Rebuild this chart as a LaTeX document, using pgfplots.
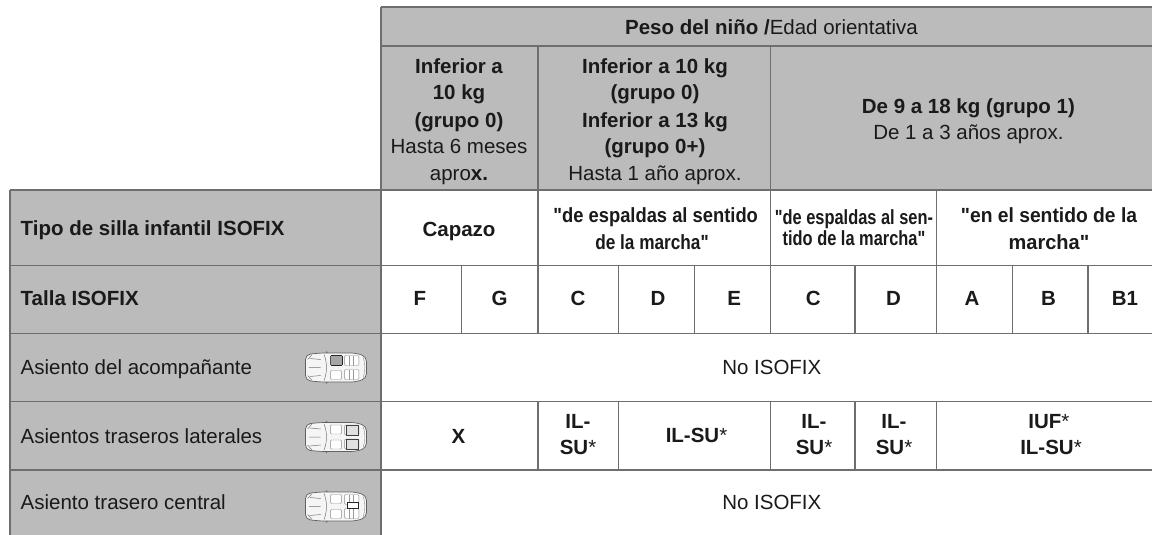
\documentclass[border=0pt]{standalone}
\usepackage{pgfplots}
\pgfplotsset{compat=1.18}
\usepackage{fontspec}
\setmainfont[Ligatures=TeXOff]{Liberation Sans}
\definecolor{cellgrey}{HTML}{BBBBBB}
\definecolor{rule}{HTML}{6E6E6E}
\definecolor{ink}{HTML}{1A1A1A}
\newcommand{\grid}[1]{\addplot[rule,line width=1.5pt,forget plot] coordinates {#1};}
\newcommand{\B}[1]{{\bfseries #1}}
\newcommand{\Sx}[2]{\scalebox{#1}[1]{#2}}
\newcommand{\cell}[3]{\node[align=center,text=ink,inner sep=0pt,anchor=center,yshift=-2pt] at (axis cs:#1,#2) {\strut #3};}
\newcommand{\lcell}[2]{\node[text=ink,inner sep=0pt,anchor=west,yshift=-2pt] at (axis cs:20.5,#1) {\strut #2};}
\tikzset{
  seat/.style={draw=#1,line width=0.45pt,fill=white,rounded corners=1pt},
  pics/car/.style={code={
    \begin{scope}[x=1.09pt,y=1pt]
      \draw[fill=white!96!black,draw=black!62,line width=0.7pt,rounded corners=5pt]
        (-28,-13)--(-28,13)--(-14,14.5)--(18,14.5)--(28,11)--(28,-11)--(18,-14.5)--(-14,-14.5)--cycle;
      \draw[black!62,line width=0.7pt] (-8,14.5)--(-9,16) (-8,-14.5)--(-9,-16);
      \draw[black!55,line width=0.5pt] (-11,13) .. controls (-8,5) and (-8,-5) .. (-11,-13);
      \draw[black!55,line width=0.5pt] (-14,8)--(-24,9) (-14,0)--(-25,0) (-14,-8)--(-24,-9);
      \draw[black!55,line width=0.5pt] (-22,13)--(-26,8) (-22,-13)--(-26,-8);
      \draw[black!45,line width=0.4pt] (25,10) .. controls (27,4) and (27,-4) .. (25,-10);
      \draw[seat=black!45] (-5,3)  rectangle (5,12);
      \draw[seat=black!45] (-5,-12) rectangle (5,-3);
      \draw[seat=black!45] (8,2)  rectangle (21,12);
      \draw[seat=black!45] (8,-12) rectangle (21,-2);
      \draw[black!40,line width=0.35pt] (12,2)--(12,12) (16,2)--(16,12) (12,-12)--(12,-2) (16,-12)--(16,-2);
      #1
    \end{scope}
  }},
}
\newcommand{\car}[2]{\path (axis cs:336,#1) pic {car={#2}};}
\begin{document}
\begin{tikzpicture}
\begin{axis}[
  scale only axis, width=1152pt, height=535pt,
  xmin=0,xmax=1152,ymin=0,ymax=535,y dir=reverse,
  hide axis, clip=true,
  font=\fontsize{20.5}{23}\selectfont,
]
\addplot[fill=white,draw=none,forget plot] coordinates {(0,0)(1152,0)(1152,535)(0,535)} --cycle;
\addplot[fill=cellgrey,draw=none,forget plot] coordinates {(381,7)(1152,7)(1152,190)(381,190)} --cycle;
\addplot[fill=cellgrey,draw=none,forget plot] coordinates {(10,190)(381,190)(381,535)(10,535)} --cycle;
% horizontals
\grid{(381,7)(1152,7)}
\grid{(381,46)(1152,46)}
\grid{(10,190)(1152,190)}
\grid{(10,265.7)(1152,265.7)}
\grid{(10,333.3)(1152,333.3)}
\grid{(10,401.7)(1152,401.7)}
\grid{(10,470)(1152,470)}
% verticals
\grid{(10,190)(10,535)}
\grid{(381,7)(381,535)}
\grid{(537.8,46)(537.8,333.3)}
\grid{(770.7,46)(770.7,333.3)}
\grid{(936.4,190)(936.4,333.3)}
\grid{(461.4,265.7)(461.4,333.3)}
\grid{(618.6,265.7)(618.6,333.3)}
\grid{(694.7,265.7)(694.7,333.3)}
\grid{(854.8,265.7)(854.8,333.3)}
\grid{(1012.4,265.7)(1012.4,333.3)}
\grid{(1088.1,265.7)(1088.1,333.3)}
\grid{(537.8,401.7)(537.8,470)}
\grid{(618.6,401.7)(618.6,470)}
\grid{(770.7,401.7)(770.7,470)}
\grid{(854.8,401.7)(854.8,470)}
\grid{(936.4,401.7)(936.4,470)}
% text
\cell{771.5}{28}{\B{Peso del niño /}Edad orientativa}
\cell{459}{66.7}{\B{Inferior a}}
\cell{459}{93.3}{\B{10 kg}}
\cell{459}{120.5}{\B{(grupo 0)}}
\cell{459}{147}{Hasta 6 meses}
\cell{459}{174}{apro\B{x.}}
\cell{655}{66.7}{\B{Inferior a 10 kg}}
\cell{655}{93.3}{\B{(grupo 0)}}
\cell{655}{120.5}{\B{Inferior a 13 kg}}
\cell{655}{147}{\B{(grupo 0+)}}
\cell{655}{174}{Hasta 1 año aprox.}
\cell{968.4}{107}{\B{De 9 a 18 kg (grupo 1)}}
\cell{968.4}{133}{De 1 a 3 años aprox.}
\lcell{229}{\B{Tipo de silla infantil ISOFIX}}
\cell{459}{230}{\B{Capazo}}
\cell{655.7}{215.5}{\Sx{0.895}{\B{"de espaldas al sentido}}}
\cell{652}{243}{\Sx{0.84}{\B{de la marcha"}}}
\cell{854}{218}{\Sx{0.80}{\B{"de espaldas al sen-}}}
\cell{854}{239}{\Sx{0.80}{\B{tido de la marcha"}}}
\cell{1049}{215.5}{\Sx{0.94}{\B{"en el sentido de la}}}
\cell{1049}{243}{\Sx{0.975}{\B{marcha"}}}
\lcell{299}{\B{Talla ISOFIX}}
\cell{420}{299}{\B{F}}
\cell{499.6}{299}{\B{G}}
\cell{578}{299}{\B{C}}
\cell{658}{299}{\B{D}}
\cell{734.3}{299}{\B{E}}
\cell{813.3}{299}{\B{C}}
\cell{893.4}{299}{\B{D}}
\cell{972}{299}{\B{A}}
\cell{1048.4}{299}{\B{B}}
\cell{1124.9}{299}{\B{B1}}
\lcell{368}{Asiento del acompañante}
\cell{771.8}{368}{No ISOFIX}
\lcell{437}{Asientos traseros laterales}
\cell{458.5}{437}{\B{X}}
\cell{578}{422}{\B{IL-}}
\cell{578}{448}{\B{SU}*}
\cell{696.5}{436}{\B{IL-SU}*}
\cell{814}{422}{\B{IL-}}
\cell{814}{448}{\B{SU}*}
\cell{894}{422}{\B{IL-}}
\cell{894}{448}{\B{SU}*}
\cell{1048.8}{422}{\B{IUF}*}
\cell{1051}{448}{\B{IL-SU}*}
\lcell{503}{Asiento trasero central}
\cell{771.8}{503}{No ISOFIX}
% car pictograms
\car{367.5}{\draw[draw=black!85,fill=black!35,line width=0.6pt,rounded corners=1pt] (-5,2) rectangle (6,12);}
\car{437}{\draw[draw=black!75,fill=black!12,line width=0.6pt] (9,2) rectangle (20,12) (9,-12) rectangle (20,-2);}
\car{506.5}{\draw[draw=black!85,fill=white,line width=0.6pt] (10,-2) rectangle (20,4);}
\end{axis}
\end{tikzpicture}
\end{document}
